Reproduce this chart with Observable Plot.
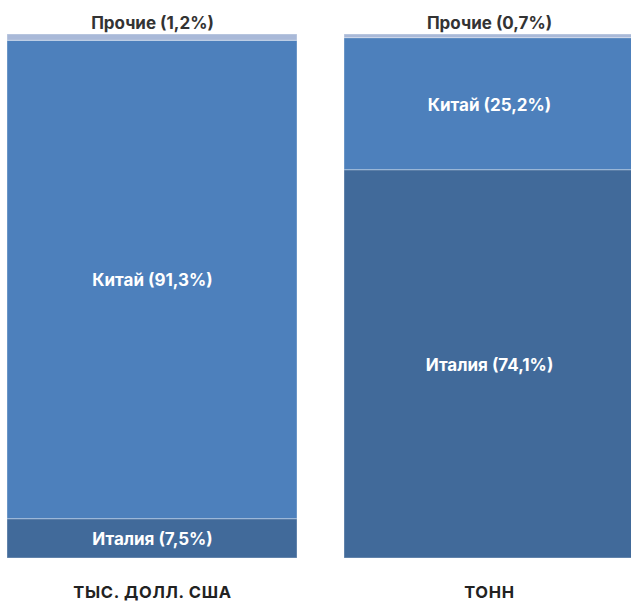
<!DOCTYPE html>
<html>
<head>
<meta charset="utf-8">
<script src="https://cdn.jsdelivr.net/npm/d3@7"></script>
<script src="https://cdn.jsdelivr.net/npm/@observablehq/plot@0.6"></script>
<style>
  body { margin: 0; background: #fff; }
  svg { font-family: Inter, "Open Sans", sans-serif; }
  g[aria-label="x-axis tick label"] text { letter-spacing: 0.7px; }
</style>
</head>
<body>
<div id="chart"></div>
<script>
const measures = ["ТЫС. ДОЛЛ. США", "ТОНН"];
const countries = ["Италия", "Китай", "Прочие"];
const shareUSD = [7.5, 91.3, 1.2];
const shareTon = [74.1, 25.2, 0.7];
const colors = ["#416a9a", "#4d80bc", "#a9b9d8"];

const fmt = v => v.toFixed(1).replace(".", ",");
const rows = [];
measures.forEach((m, i) => {
  const vals = i === 0 ? shareUSD : shareTon;
  countries.forEach((c, j) => rows.push({measure: m, country: c, value: vals[j], label: `${c} (${fmt(vals[j])}%)`}));
});
const other = rows.filter(d => d.country === "Прочие");

const chart = Plot.plot({
  width: 631,
  height: 601,
  marginLeft: 7,
  marginRight: 0,
  marginTop: 34,
  marginBottom: 43,
  x: {domain: measures, range: [7, 634], paddingInner: 0.1395, paddingOuter: 0, label: null, axis: null},
  y: {domain: [0, 100], axis: null},
  color: {domain: countries, range: colors},
  marks: [
    Plot.barY(rows, {x: "measure", y: "value", fill: "country", z: "country", stroke: "white", strokeOpacity: 0.35, strokeWidth: 1, order: countries}),
    Plot.text(rows, Plot.stackY({x: "measure", y: "value", z: "country", order: countries, text: d => d.country === "Прочие" ? null : d.label, fill: "white", fontSize: 17, fontWeight: "bold", dy: 1})),
    Plot.text(other, {x: "measure", y: 100, text: "label", dy: -11, fill: "#333", fontSize: 17, fontWeight: "bold"}),
    Plot.axisX({tickSize: 0, tickPadding: 28, fontSize: 16.5, fontWeight: "bold", fill: "#222", label: null})
  ]
});
document.getElementById("chart").append(chart);
</script>
</body>
</html>
